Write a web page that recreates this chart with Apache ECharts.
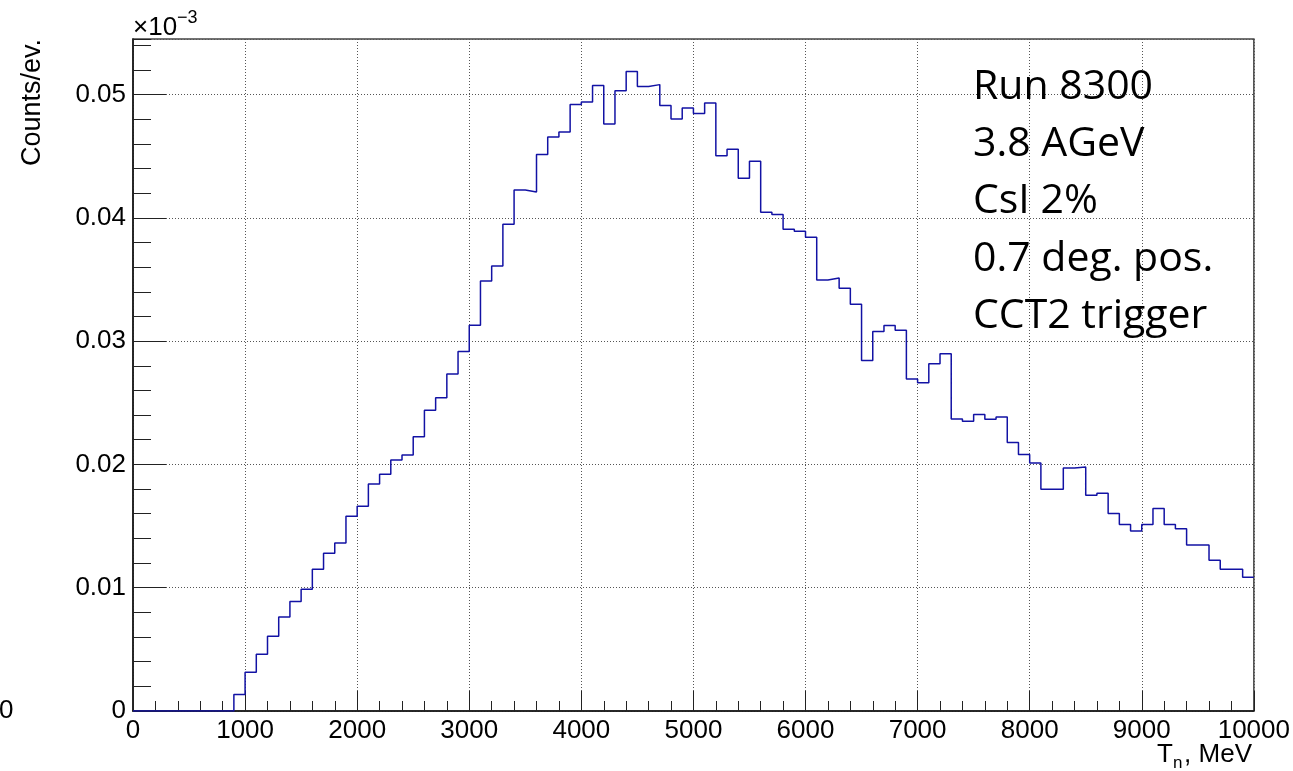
<!DOCTYPE html>
<html>
<head>
<meta charset="utf-8">
<title>Neutron kinetic energy spectrum</title>
<script src="https://cdn.jsdelivr.net/npm/echarts@6/dist/echarts.min.js"></script>
<style>
  html, body { margin: 0; padding: 0; background: #fff; }
  #chart { width: 1293px; height: 771px; }
</style>
</head>
<body>
<div id="chart"></div>
<script>
// Histogram binning (MeV)
const binStart = 0;
const binWidth = 100;

// Counts per event in each 100 MeV bin, in units of the y-axis labels (x10^-3)
const counts = [
  0, 0, 0, 0, 0, 0, 0, 0, 0, 0.00133,
  0.00314, 0.00460, 0.00607, 0.00762, 0.00888, 0.00987, 0.01150, 0.01280, 0.01363, 0.01580,
  0.01660, 0.01840, 0.01920, 0.02036, 0.02077, 0.02225, 0.02439, 0.02540, 0.02733, 0.02915,
  0.03128, 0.03487, 0.03609, 0.03947, 0.04225, 0.04209, 0.04513, 0.04655, 0.04696, 0.04918,
  0.04939, 0.05072, 0.04761, 0.05031, 0.05186, 0.05064, 0.05080, 0.04910, 0.04801, 0.04890,
  0.04845, 0.04931, 0.04504, 0.04555, 0.04320, 0.04458, 0.04045, 0.04026, 0.03907, 0.03890,
  0.03842, 0.03496, 0.03512, 0.03428, 0.03298, 0.02842, 0.03077, 0.03126, 0.03088, 0.02693,
  0.02663, 0.02817, 0.02898, 0.02368, 0.02350, 0.02404, 0.02366, 0.02385, 0.02177, 0.02080,
  0.02011, 0.01798, 0.01798, 0.01971, 0.01979, 0.01749, 0.01766, 0.01601, 0.01512, 0.01460,
  0.01512, 0.01642, 0.01512, 0.01479, 0.01346, 0.01346, 0.01222, 0.01149, 0.01149, 0.01084
];

// Axis ranges and tick spacing
const xRange = [0, 10000];
const xMajor = 1000;
const yRange = [0, 0.0545];
const yMajor = 0.01;
const yMinor = 0.002;

// Annotation lines shown in the upper right
const infoLines = ['Run 8300', '3.8 AGeV', 'CsI 2%', '0.7 deg. pos.', 'CCT2 trigger'];

// Step outline: one point per bin low edge, plus the upper edge of the last bin
const stepData = counts.map((c, i) => [binStart + i * binWidth, c]);
stepData.push([binStart + counts.length * binWidth, counts[counts.length - 1]]);

const AXIS_FONT = '"Liberation Sans", Arial, Helvetica, sans-serif';
const INFO_FONT = '"Open Sans", "Noto Sans", sans-serif';

const chart = echarts.init(document.getElementById('chart'), null, { renderer: 'canvas' });

const gridLine = { show: true, lineStyle: { color: '#555', width: 1, type: [1, 2] } };

const infoGraphics = infoLines.map((t, i) => ({
  type: 'text',
  x: 973,
  y: 87 + i * 57.3,
  style: {
    text: t,
    font: '41px ' + INFO_FONT,
    fill: '#000',
    align: 'left',
    verticalAlign: 'middle'
  },
  z: 20
}));

chart.setOption({
  animation: false,
  backgroundColor: '#fff',
  grid: {
    left: 133, right: 39, top: 39, bottom: 60,
    show: true, borderColor: '#444', borderWidth: 1.5,
    backgroundColor: 'transparent'
  },
  xAxis: {
    type: 'value',
    min: xRange[0], max: xRange[1], interval: xMajor,
    axisLine: { show: true, onZero: false, lineStyle: { color: '#111', width: 1.5 } },
    axisTick: { show: true, inside: true, length: 20, lineStyle: { color: '#222' } },
    minorTick: { show: true, splitNumber: 5, length: 10, lineStyle: { color: '#222' } },
    axisLabel: {
      show: true, margin: 7, color: '#000', fontSize: 26, fontFamily: AXIS_FONT,
      formatter: v => String(v)
    },
    splitLine: gridLine,
    minorSplitLine: { show: false }
  },
  yAxis: [
    {
      type: 'value',
      min: yRange[0], max: yRange[1], interval: yMajor,
      axisLine: { show: true, onZero: false, lineStyle: { color: '#111', width: 1.5 } },
      axisTick: { show: true, inside: true, length: 33, lineStyle: { color: '#222' } },
      axisLabel: {
        show: true, margin: 7, color: '#000', fontSize: 26, fontFamily: AXIS_FONT,
        showMaxLabel: false,
        formatter: v => (v === 0 ? '0' : v.toFixed(2))
      },
      splitLine: gridLine
    },
    {
      // finer tick marks along the left edge
      type: 'value', position: 'left', offset: 0,
      min: yRange[0], max: yRange[1], interval: yMinor,
      axisLine: { show: false },
      axisTick: { show: true, inside: true, length: 18, lineStyle: { color: '#222' } },
      axisLabel: { show: false },
      splitLine: { show: false }
    }
  ],
  series: [{
    type: 'line',
    step: 'end',
    xAxisIndex: 0,
    yAxisIndex: 0,
    data: stepData,
    showSymbol: false,
    symbol: 'none',
    clip: true,
    lineStyle: { color: '#1212a4', width: 1.5 },
    z: 5
  }],
  graphic: [
    {
      type: 'text', x: 133, y: 28,
      style: { text: '\u00d710', font: '26px ' + AXIS_FONT, fill: '#000', align: 'left', verticalAlign: 'middle' }
    },
    {
      type: 'text', x: 177, y: 18,
      style: { text: '\u22123', font: '18px ' + AXIS_FONT, fill: '#000', align: 'left', verticalAlign: 'middle' }
    },
    {
      type: 'text', x: 32.5, y: 102.5, rotation: Math.PI / 2,
      style: { text: 'Counts/ev.', font: '27px ' + AXIS_FONT, fill: '#000', align: 'center', verticalAlign: 'middle' }
    },
    {
      type: 'text', x: 1157, y: 755,
      style: { text: 'T', font: '26px ' + AXIS_FONT, fill: '#000', align: 'left', verticalAlign: 'middle' }
    },
    {
      type: 'text', x: 1173, y: 763,
      style: { text: 'n', font: '17px ' + AXIS_FONT, fill: '#000', align: 'left', verticalAlign: 'middle' }
    },
    {
      type: 'text', x: 1252, y: 755,
      style: { text: ', MeV', font: '26px ' + AXIS_FONT, fill: '#000', align: 'right', verticalAlign: 'middle' }
    },
    {
      type: 'text', x: -1, y: 711,
      style: { text: '0', font: '26px ' + AXIS_FONT, fill: '#000', align: 'left', verticalAlign: 'middle' }
    }
  ].concat(infoGraphics)
});
</script>
</body>
</html>
